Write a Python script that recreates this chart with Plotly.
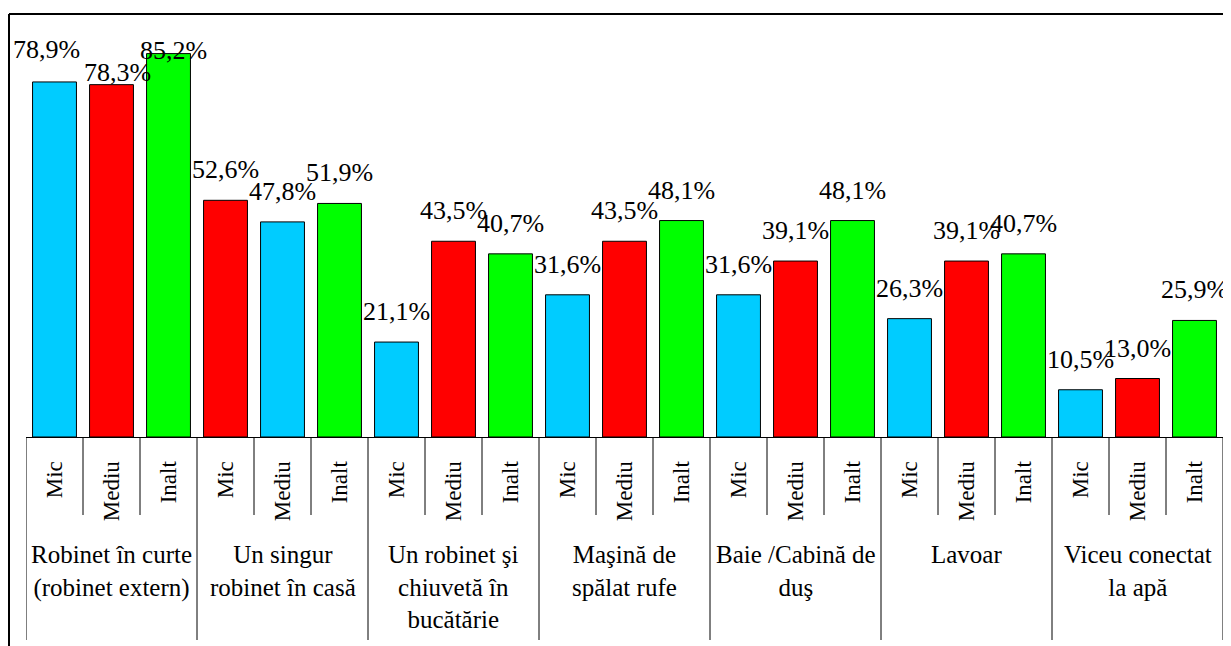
import plotly.graph_objects as go

# facilities (group labels, <br> marks the line breaks seen in the chart)
groups = [
    "Robinet în curte<br>(robinet extern)",
    "Un singur<br>robinet în casă",
    "Un robinet şi<br>chiuvetă în<br>bucătărie",
    "Maşină de<br>spălat rufe",
    "Baie /Cabină de<br>duş",
    "Lavoar",
    "Viceu conectat<br>la apă",
]
levels = ["Mic", "Mediu", "Inalt"]

# percentages, 3 per group in the order Mic, Mediu, Inalt
values = [
    78.9, 78.3, 85.2,
    52.6, 47.8, 51.9,
    21.1, 43.5, 40.7,
    31.6, 43.5, 48.1,
    31.6, 39.1, 48.1,
    26.3, 39.1, 40.7,
    10.5, 13.0, 25.9,
]

BLUE, RED, GREEN = "#00CCFF", "#FF0000", "#00FF00"
# the second group has its first two colours swapped in the original
bar_colors = [
    BLUE, RED, GREEN,
    RED, BLUE, GREEN,
    BLUE, RED, GREEN,
    BLUE, RED, GREEN,
    BLUE, RED, GREEN,
    BLUE, RED, GREEN,
    BLUE, RED, GREEN,
]

# a few labels were dragged by hand in the original (index: (dx, dy) px)
label_nudge = {0: (-8, 2), 1: (6, -18), 2: (5, -27)}

FONT = "Palatino Linotype, Book Antiqua, Liberation Serif, serif"

keys = [g + "|" + lv for g in groups for lv in levels]
ticktext = [lv for g in groups for lv in levels]

fig = go.Figure()
fig.add_trace(go.Bar(
    x=keys,
    y=values,
    marker=dict(color=bar_colors, line=dict(color="black", width=1)),
    hoverinfo="skip",
))

# value labels
for i, (k, v) in enumerate(zip(keys, values)):
    dx, dy = label_nudge.get(i, (0, 0))
    fig.add_annotation(
        x=k, y=v, xref="x", yref="y",
        text=f"{v:.1f}%".replace(".", ","),
        showarrow=False, yanchor="bottom",
        xshift=dx, yshift=14 + dy,
        font=dict(family=FONT, size=26, color="black"),
    )

# group labels under the rotated level labels
for gi, g in enumerate(groups):
    fig.add_annotation(
        x=keys[gi * 3 + 1], y=0, xref="x", yref="paper",
        text=g, showarrow=False, yanchor="top",
        yshift=-102,
        font=dict(family=FONT, size=25, color="black"),
    )

# divider lines: short ones between levels, long ones between groups
shapes = []
for b in range(len(keys) + 1):
    long_line = b % 3 == 0
    shapes.append(dict(
        type="line", xref="x", yref="paper",
        x0=b - 0.5, x1=b - 0.5,
        ysizemode="pixel", yanchor=0,
        y0=0, y1=-203 if long_line else -78,
        line=dict(color="black", width=1),
    ))

# chart frame (top and left edges, the rest is cut off in the original)
shapes.append(dict(type="line", xref="paper", yref="paper",
                   x0=-0.0142, x1=1.1, y0=1, y1=1,
                   line=dict(color="black", width=2)))
shapes.append(dict(type="line", xref="paper", yref="paper",
                   x0=-0.0142, x1=-0.0142, y0=1, y1=-0.6,
                   line=dict(color="black", width=2)))

# the page adds an 8px body margin, so the figure is 8px smaller
fig.update_layout(
    width=1223, height=638,
    margin=dict(l=18, r=8, t=6, b=209),
    plot_bgcolor="white", paper_bgcolor="white",
    showlegend=False,
    bargap=0.23,
    shapes=shapes,
    font=dict(family=FONT, color="black"),
)
fig.update_xaxes(
    type="category",
    range=[-0.5, len(keys) - 0.5],
    tickvals=keys, ticktext=ticktext,
    tickangle=-90,
    tickfont=dict(family=FONT, size=23, color="black"),
    ticks="",
    ticklabelstandoff=14,
    showline=True, linecolor="black", linewidth=1,
    showgrid=False, zeroline=False,
)
fig.update_yaxes(
    range=[0, 94],
    visible=False,
    showgrid=False, zeroline=False,
)

fig.write_html("out.html")
